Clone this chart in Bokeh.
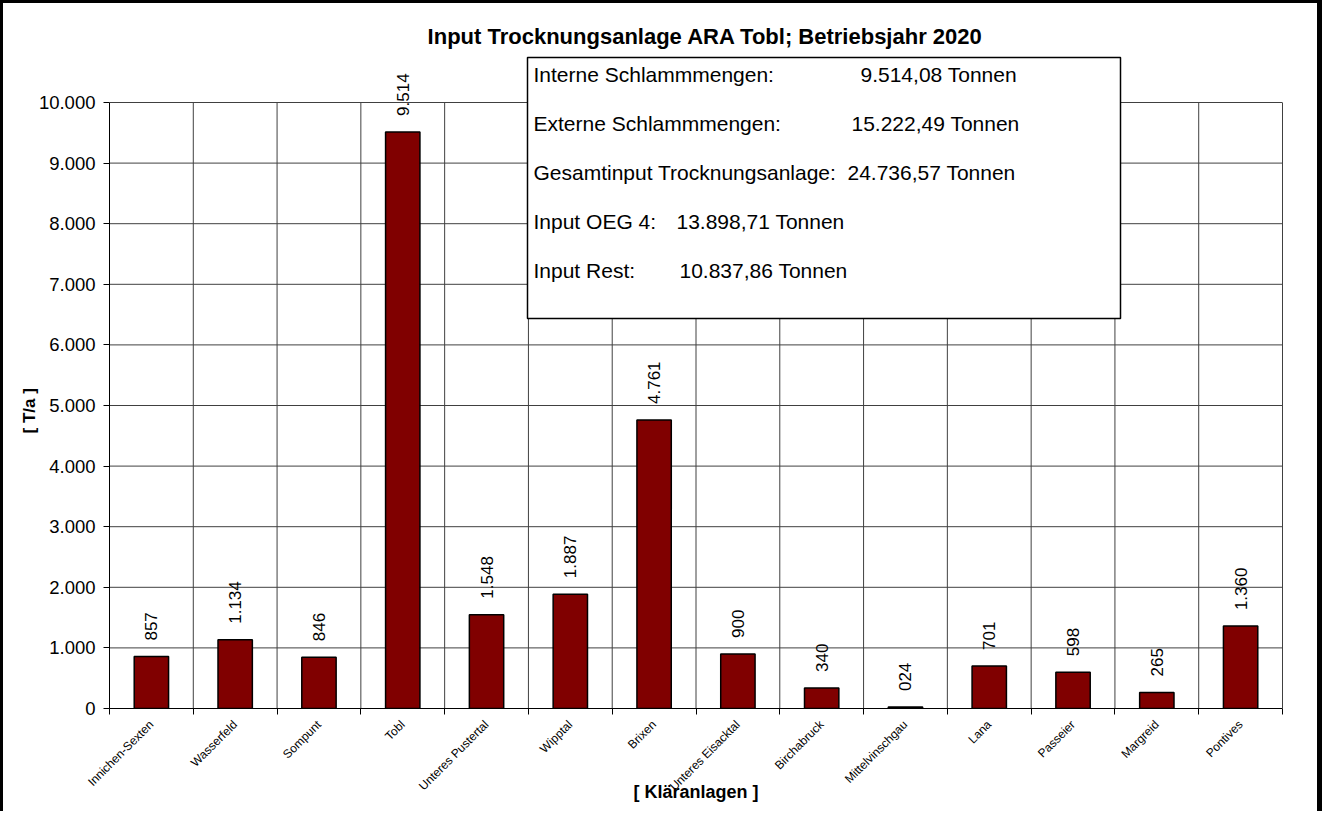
import math
from bokeh.plotting import figure
from bokeh.models import (ColumnDataSource, Range1d, FixedTicker, LabelSet,
                          Label, BoxAnnotation, LinearAxis, Title)
from bokeh.core.properties import value
from bokeh.embed import file_html
from bokeh.resources import INLINE

# ---------------- data ----------------
categories = ["Innichen-Sexten", "Wasserfeld", "Sompunt", "Tobl",
              "Unteres Pustertal", "Wipptal", "Brixen", "Unteres Eisacktal",
              "Birchabruck", "Mittelvinschgau", "Lana", "Passeier",
              "Margreid", "Pontives"]
values = [857, 1134, 846, 9514, 1548, 1887, 4761, 900, 340, 24, 701, 598,
          265, 1360]
value_labels = ["857", "1.134", "846", "9.514", "1.548", "1.887", "4.761",
                "900", "340", "024", "701", "598", "265", "1.360"]
y_ticks = [0, 1000, 2000, 3000, 4000, 5000, 6000, 7000, 8000, 9000, 10000]
y_tick_labels = ["0", "1.000", "2.000", "3.000", "4.000", "5.000", "6.000",
                 "7.000", "8.000", "9.000", "10.000"]
title_text = "Input Trocknungsanlage ARA Tobl; Betriebsjahr 2020"
x_title = "[ Kläranlagen ]"
y_title = "[ T/a ]"
box_names = ["Interne Schlammmengen:", "Externe Schlammmengen:",
             "Gesamtinput Trocknungsanlage:", "Input OEG 4:", "Input Rest:"]
box_amounts = ["9.514,08 Tonnen", "15.222,49 Tonnen", "24.736,57 Tonnen",
               "13.898,71 Tonnen", "10.837,86 Tonnen"]

# ---------------- layout (page pixels) ----------------
FONT = "Liberation Sans"
FL, FR, FT, FB = 117, 1290, 110, 716      # value-area in page pixels
FRAME_TOP = 20                            # drawing frame extends above
N = len(categories)
Y_MAX = 10000


def px_x(px):
    return (px - FL) / (FR - FL) * N - 0.5


def px_y(py):
    return (FB - py) / (FB - FT) * Y_MAX


xs = list(range(N))
boundaries = [i - 0.5 for i in range(N + 1)]

src = ColumnDataSource(dict(x=xs, value=values, label=value_labels))

p = figure(width=1322, height=811,
           x_range=Range1d(-0.5, N - 0.5), y_range=Range1d(0, px_y(FRAME_TOP)),
           output_backend="svg", toolbar_location=None,
           min_border_left=106, min_border_right=43,
           min_border_top=9, min_border_bottom=106)
p.styles = {"border-left": "3px solid black", "border-top": "3px solid black",
            "border-right": "5px solid black"}
p.background_fill_color = "white"
p.border_fill_color = "white"
p.outline_line_color = None
p.xgrid.visible = False
p.ygrid.visible = False

GRID = "#404040"
# horizontal grid lines (value area only)
p.segment(x0=[-0.5] * (len(y_ticks) - 1), x1=[N - 0.5] * (len(y_ticks) - 1),
          y0=y_ticks[1:], y1=y_ticks[1:], line_color=GRID, line_width=1)
# vertical category separators
inner = boundaries[1:-1]
p.segment(x0=inner, x1=inner, y0=[0] * len(inner), y1=[Y_MAX] * len(inner),
          line_color=GRID, line_width=1)

# x axis
xa = p.xaxis[0]
xa.ticker = FixedTicker(ticks=xs, minor_ticks=boundaries)
xa.major_label_overrides = {i: c for i, c in zip(xs, categories)}
xa.major_label_orientation = math.pi / 4
xa.major_label_text_font = FONT
xa.major_label_text_font_size = "12px"
xa.major_label_text_color = "black"
xa.major_label_standoff = 8
xa.major_tick_line_color = None
xa.minor_tick_line_color = "black"
xa.minor_tick_in = 0
xa.minor_tick_out = 6
xa.axis_line_color = "black"
xa.axis_label = x_title
xa.axis_label_text_font = FONT
xa.axis_label_text_font_size = "18px"
xa.axis_label_text_font_style = "bold"
xa.axis_label_text_color = "black"
xa.axis_label_standoff = -19

# y axis
ya = p.yaxis[0]
ya.ticker = FixedTicker(ticks=y_ticks)
ya.bounds = (0, Y_MAX)
ya.major_label_overrides = {t: l for t, l in zip(y_ticks, y_tick_labels)}
ya.major_label_text_font = FONT
ya.major_label_text_font_size = "18.5px"
ya.major_label_text_color = "black"
ya.major_label_standoff = 8
ya.major_tick_in = 0
ya.major_tick_out = 6
ya.major_tick_line_color = "black"
ya.minor_tick_line_color = None
ya.axis_line_color = "black"

# y axis title, placed beside the value area (offset from frame bottom)
p.add_layout(Title(text=y_title, align="left", offset=FB - 441, standoff=-6,
                   text_font=FONT, text_font_size="17px",
                   text_font_style="bold", text_color="black"), "left")

# right edge of the value area
ra = LinearAxis(ticker=FixedTicker(ticks=[]), bounds=(0, Y_MAX),
                axis_line_color=GRID, major_tick_line_color=None,
                minor_tick_line_color=None, major_label_text_font_size="0px")
p.add_layout(ra, "right")

# bars
p.vbar(x="x", top="value", width=0.41, source=src,
       fill_color="#800000", line_color="black", line_width=1.5)

# value labels
p.add_layout(LabelSet(x="x", y="value", text="label", source=src,
                      angle=math.pi / 2, text_align="left",
                      text_baseline="middle", y_offset=16,
                      text_font=value(FONT), text_font_size=value("17px"),
                      text_color="black"))

# title
p.add_layout(Label(x=px_x(713), y=px_y(44), text=title_text,
                   text_align="center", text_baseline="middle",
                   text_font=FONT, text_font_size="22px",
                   text_font_style="bold", text_color="black"))

# info box
p.add_layout(BoxAnnotation(left=px_x(535), right=px_x(1128),
                           top=px_y(65), bottom=px_y(326),
                           fill_color="white", fill_alpha=1.0,
                           line_color="black", line_width=1.5,
                           line_alpha=1.0))
line_y = [82, 131, 180, 229, 278]
amount_x = [868, 859, 855, 684, 687]
for name, amount, ly, ax in zip(box_names, box_amounts, line_y, amount_x):
    p.add_layout(Label(x=px_x(541), y=px_y(ly), text=name,
                       text_align="left", text_baseline="middle",
                       text_font=FONT, text_font_size="21px",
                       text_color="black"))
    p.add_layout(Label(x=px_x(ax), y=px_y(ly), text=amount,
                       text_align="left", text_baseline="middle",
                       text_font=FONT, text_font_size="21px",
                       text_color="black"))

open("out.html", "w").write(file_html(p, INLINE))
